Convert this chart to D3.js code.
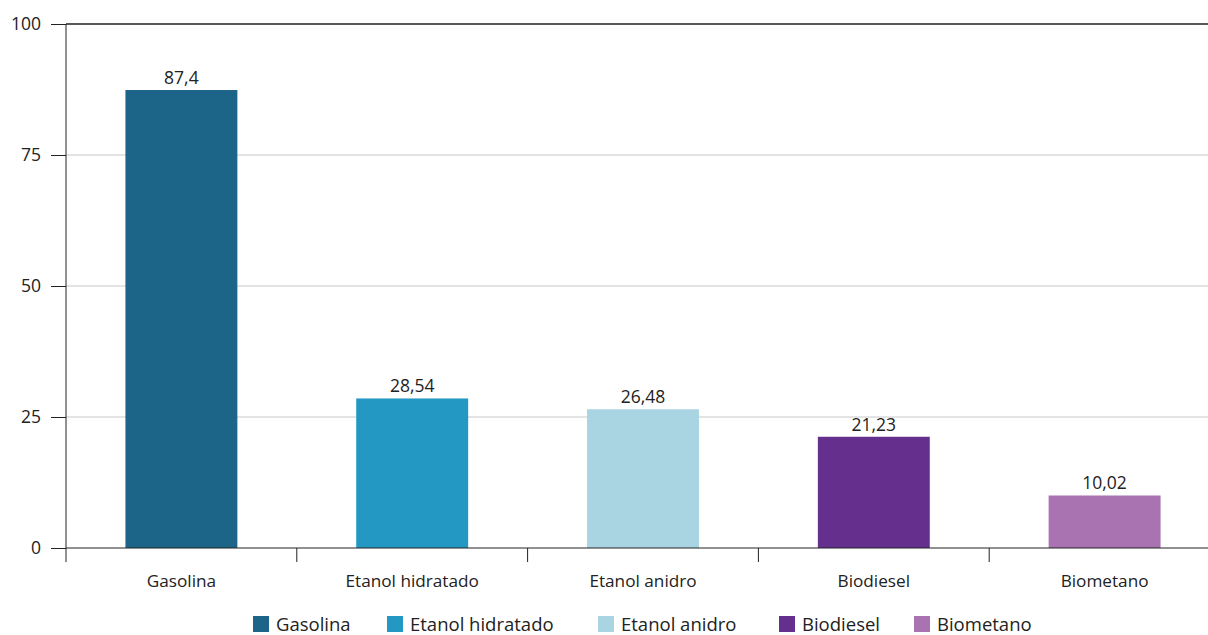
<!DOCTYPE html>
<html>
<head>
<meta charset="utf-8">
<script src="https://cdn.jsdelivr.net/npm/d3@7"></script>
<style>
  body { margin: 0; background: #fff; }
  svg { display: block; font-family: "Open Sans", "Noto Sans", sans-serif; }
</style>
</head>
<body>
<svg></svg>
<script>
const width = 1208;
const height = 635;

const categories = ["Gasolina", "Etanol hidratado", "Etanol anidro", "Biodiesel", "Biometano"];
const values = [87.4, 28.54, 26.48, 21.23, 10.02];
const labels = ["87,4", "28,54", "26,48", "21,23", "10,02"];
const colors = ["#1d6489", "#2398c3", "#a9d4e2", "#65308d", "#a873b0"];
const yTicks = [0, 25, 50, 75, 100];

const plotLeft = 66, plotRight = 1220, plotTop = 24, plotBottom = 548;

const svg = d3.select("svg")
  .attr("width", width)
  .attr("height", height);

const x = d3.scaleBand()
  .domain(categories)
  .range([plotLeft, plotRight])
  .paddingInner(0.515)
  .paddingOuter(0.2575);

const y = d3.scaleLinear()
  .domain([0, 100])
  .range([plotBottom, plotTop]);

const color = d3.scaleOrdinal(categories, colors);

// gridlines
svg.append("g")
  .selectAll("line")
  .data(yTicks.filter(d => d > 0))
  .join("line")
  .attr("x1", plotLeft)
  .attr("x2", width)
  .attr("y1", d => y(d))
  .attr("y2", d => y(d))
  .attr("stroke", d => d === 100 ? "#222" : "#c8c8c8")
  .attr("stroke-width", d => d === 100 ? 1.5 : 1);

// bars
svg.append("g")
  .selectAll("rect")
  .data(categories)
  .join("rect")
  .attr("x", d => x(d))
  .attr("width", x.bandwidth())
  .attr("y", (d, i) => y(values[i]))
  .attr("height", (d, i) => y(0) - y(values[i]))
  .attr("fill", d => color(d));

// value labels
svg.append("g")
  .selectAll("text")
  .data(categories)
  .join("text")
  .attr("x", d => x(d) + x.bandwidth() / 2)
  .attr("y", (d, i) => y(values[i]) - 6)
  .attr("text-anchor", "middle")
  .attr("font-size", 17.5)
  .attr("fill", "#222")
  .text((d, i) => labels[i]);

// y axis
const yAxis = svg.append("g")
  .attr("transform", `translate(${plotLeft},0)`)
  .call(d3.axisLeft(y).tickValues(yTicks).tickSize(15).tickPadding(10).tickFormat(d3.format("d")));
yAxis.select(".domain").remove();
yAxis.selectAll(".tick line").attr("stroke", "#222");
yAxis.selectAll(".tick text")
  .attr("font-size", 17.5)
  .attr("font-family", "Open Sans, Noto Sans, sans-serif")
  .attr("fill", "#222");
yAxis.append("line")
  .attr("x1", 0).attr("x2", 0)
  .attr("y1", plotTop).attr("y2", plotBottom + 14)
  .attr("stroke", "#222");

// x axis: baseline + boundary ticks
const xAxis = svg.append("g");
xAxis.append("line")
  .attr("x1", plotLeft).attr("x2", width)
  .attr("y1", plotBottom).attr("y2", plotBottom)
  .attr("stroke", "#222");
const step = x.step();
xAxis.selectAll("line.tick")
  .data(categories.slice(1))
  .join("line")
  .attr("class", "tick")
  .attr("x1", d => x(d) - x.paddingInner() * step / 2)
  .attr("x2", d => x(d) - x.paddingInner() * step / 2)
  .attr("y1", plotBottom)
  .attr("y2", plotBottom + 14)
  .attr("stroke", "#222");
xAxis.selectAll("text")
  .data(categories)
  .join("text")
  .attr("x", d => x(d) + x.bandwidth() / 2)
  .attr("y", plotBottom + 39)
  .attr("text-anchor", "middle")
  .attr("font-size", 17.2)
  .attr("fill", "#222")
  .text(d => d);

// legend
const legendX = [253, 387, 598, 779, 914];
const legend = svg.append("g")
  .selectAll("g")
  .data(categories)
  .join("g")
  .attr("transform", (d, i) => `translate(${legendX[i]},616)`);
legend.append("rect")
  .attr("width", 16)
  .attr("height", 16)
  .attr("fill", d => color(d));
legend.append("text")
  .attr("x", 23)
  .attr("y", 15)
  .attr("font-size", 18.5)
  .attr("fill", "#222")
  .text(d => d);
</script>
</body>
</html>
